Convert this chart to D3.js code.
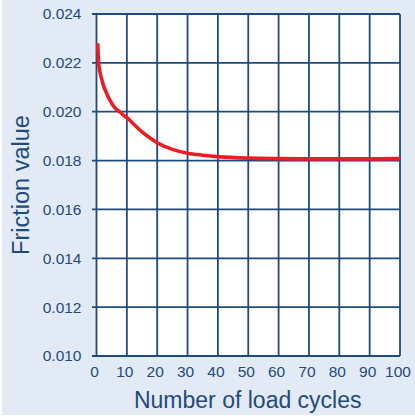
<!DOCTYPE html>
<html>
<head>
<meta charset="utf-8">
<script src="https://cdn.jsdelivr.net/npm/d3@7"></script>
<style>
  html, body { margin: 0; padding: 0; background: #ffffff; }
  svg { display: block; }
  text { font-family: "Liberation Sans", Arial, Helvetica, sans-serif; fill: #1f4b7c; }
</style>
</head>
<body>
<svg id="chart"></svg>
<script>
// values
let cycles = [0.4, 0.7, 1, 1.4, 1.8, 2.5, 3, 3.8, 5, 6, 7.6, 9, 10.4, 12, 15, 18, 20, 25, 30, 35, 40, 50, 60, 70, 80, 90, 100];
let friction = [0.02280, 0.02200, 0.02172, 0.02148, 0.02129, 0.02100, 0.02085, 0.02061, 0.02035, 0.02017,
                0.02000, 0.01985, 0.01972, 0.01952, 0.01917, 0.01889, 0.01873, 0.01846, 0.01830, 0.01822,
                0.01816, 0.01810, 0.01808, 0.01807, 0.01807, 0.01807, 0.01808];
let xTicks = [0, 10, 20, 30, 40, 50, 60, 70, 80, 90, 100];
let yTicks = [0.010, 0.012, 0.014, 0.016, 0.018, 0.020, 0.022, 0.024];

const width = 415;
const height = 418;
const ink = "#1f4b7c";

let svg = d3.select("svg#chart")
  .attr("width", width)
  .attr("height", height);

// light blue panel, thin white edge left and bottom
svg.append("rect")
  .attr("x", 2).attr("y", 0)
  .attr("width", width - 2).attr("height", 415)
  .attr("fill", "#e2eaf5");

let margin = { top: 14, right: 15, bottom: 62, left: 96.5 };
let plotWidth = width - margin.left - margin.right;
let plotHeight = height - margin.top - margin.bottom;

let x = d3.scaleLinear().domain([0, 100]).range([0, plotWidth]);
let y = d3.scaleLinear().domain([0.010, 0.024]).range([plotHeight, 0]);

let plot = svg.append("g")
  .attr("transform", "translate(" + margin.left + "," + margin.top + ")");

plot.append("rect")
  .attr("width", plotWidth).attr("height", plotHeight)
  .attr("fill", "#ffffff");

// grid
plot.selectAll("line.vgrid")
  .data(xTicks)
  .enter().append("line")
  .attr("class", "vgrid")
  .attr("x1", d => x(d)).attr("x2", d => x(d))
  .attr("y1", 0).attr("y2", plotHeight)
  .attr("stroke", ink).attr("stroke-width", 1.8);

plot.selectAll("line.hgrid")
  .data(yTicks)
  .enter().append("line")
  .attr("class", "hgrid")
  .attr("x1", -4.5).attr("x2", plotWidth)
  .attr("y1", d => y(d)).attr("y2", d => y(d))
  .attr("stroke", ink).attr("stroke-width", 1.8);

// axes for the labels only
let yAxis = d3.axisLeft(y).tickValues(yTicks).tickFormat(d3.format(".3f")).tickSize(0).tickPadding(15);
let yGroup = plot.append("g").call(yAxis);
yGroup.select(".domain").remove();
yGroup.selectAll("text")
  .attr("font-size", "15.5px")
  .attr("font-family", "'Liberation Sans', Arial, sans-serif")
  .attr("fill", ink);

let xAxis = d3.axisBottom(x).tickValues(xTicks).tickSize(0).tickPadding(10);
let xGroup = plot.append("g")
  .attr("transform", "translate(-2.5," + plotHeight + ")")
  .call(xAxis);
xGroup.select(".domain").remove();
xGroup.selectAll("text")
  .attr("font-size", "15.5px")
  .attr("font-family", "'Liberation Sans', Arial, sans-serif")
  .attr("fill", ink);

// curve
let pairs = cycles.map((c, i) => [c, friction[i]]);
let line = d3.line()
  .x(d => x(d[0]))
  .y(d => y(d[1]))
  .curve(d3.curveMonotoneX);

plot.append("path")
  .datum(pairs)
  .attr("d", line)
  .attr("fill", "none")
  .attr("stroke", "#ed1c24")
  .attr("stroke-width", 3.6);

// titles
svg.append("text")
  .attr("x", margin.left + plotWidth / 2 - 0.5)
  .attr("y", 407.5)
  .attr("text-anchor", "middle")
  .attr("font-size", "23px")
  .text("Number of load cycles");

svg.append("text")
  .attr("transform", "translate(28.5," + (margin.top + plotHeight / 2) + ") rotate(-90)")
  .attr("text-anchor", "middle")
  .attr("font-size", "23.5px")
  .text("Friction value");
</script>
</body>
</html>
